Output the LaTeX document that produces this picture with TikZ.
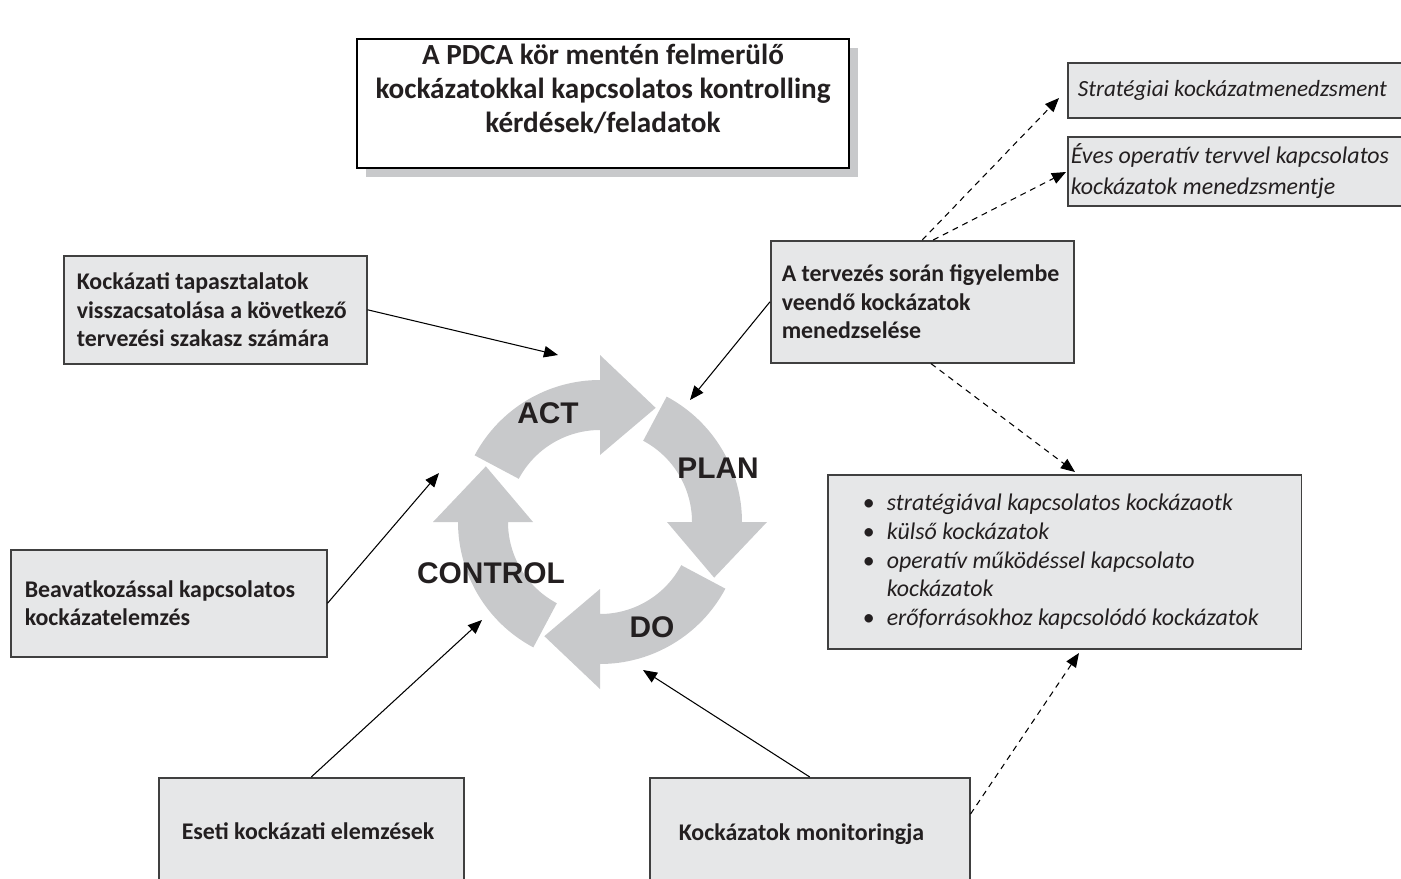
\documentclass[tikz,border=0pt]{standalone}
\usepackage{fontspec}
\setmainfont{Carlito}
\newfontfamily\arialfont{Liberation Sans}
\usetikzlibrary{arrows.meta, shadows}
\definecolor{boxfill}{HTML}{E6E7E8}
\definecolor{boxline}{HTML}{404040}
\definecolor{ringgray}{HTML}{C8C9CB}
\definecolor{textdark}{HTML}{231F20}

\begin{document}
\begin{tikzpicture}[x=0.02cm, y=-0.02cm, >={Triangle[length=8pt,width=6.5pt]},
    box/.style={draw=boxline, fill=boxfill, line width=0.9pt, anchor=north west, align=flush left,
        text=textdark, inner ysep=0pt, font=\fontsize{13.6}{16.4}\selectfont\bfseries},
    ibox/.style={box, font=\fontsize{13.6}{17.6}\selectfont\itshape},
    link/.style={->, line width=0.6pt},
    dlink/.style={link, dash pattern=on 3.4pt off 2.8pt},
    phase/.style={font=\arialfont\fontsize{17}{20}\selectfont\bfseries, text=textdark}]
        \useasboundingbox (0,0) rectangle (1401,879);
        \clip (0,0) rectangle (1401,879);
        % PDCA ring
        \begin{scope}[shift={(600,522)}, yscale=-1]
            \foreach \r in {0,-90,-180,-270}
                \fill[ringgray, rotate=\r] (152:142) arc[start angle=152, end angle=90, radius=142]
                    -- (90:167) -- (64:127) -- (90:67) -- (90:92)
                    arc[start angle=90, end angle=152, radius=92] -- cycle;
        \end{scope}
        \node[phase](act) at (548,413) {ACT};
        \node[phase](plan) at (718,468) {PLAN};
        \node[phase](control) at (491,573) {CONTROL};
        \node[phase](do) at (652,627) {DO};
        % title
        \node[draw=black, fill=white, line width=1pt, minimum width=9.84cm, minimum height=2.58cm,
            drop shadow={shadow xshift=0.18cm, shadow yshift=-0.18cm, fill=ringgray, opacity=1}]
            (pdcaTitle) at (603,103.5) {};
        \node[font=\fontsize{16.6}{19.3}\selectfont\bfseries, align=flush center, text=textdark]
            (pdcaTitleText) at (603,89) {A PDCA kör mentén felmerülő\\kockázatokkal kapcsolatos kontrolling\\kérdések/feladatok};
        % boxes
        \node[box, text width=5.54cm, inner xsep=0.26cm, minimum height=2.16cm](kockazat) at (63,255)
            {Kockázati tapasztalatok\\visszacsatolása a következő\\tervezési szakasz számára};
        \node[box, text width=5.62cm, inner xsep=0.22cm, minimum height=2.44cm](tervezes) at (770,240)
            {A tervezés során figyelembe\\veendő kockázatok\\menedzselése};
        \node[box, text width=5.76cm, inner xsep=0.28cm, minimum height=2.14cm](beavatkozas) at (10,549)
            {Beavatkozással kapcsolatos\\kockázatelemzés};
        \node[box, text width=5.18cm, inner xsep=0.46cm, minimum height=2.12cm](eseti) at (158,777)
            {Eseti kockázati elemzések};
        \node[box, text width=5.24cm, inner xsep=0.58cm, minimum height=2.24cm](monitoring) at (649,777)
            {Kockázatok monitoringja};
        \node[ibox, font=\fontsize{13.2}{17.6}\selectfont\itshape, text width=7.6cm, inner xsep=0.2cm,
            minimum height=1.1cm](strategiai) at (1067,62)
            {Stratégiai kockázatmenedzsment};
        \node[ibox, text width=7.88cm, inner xsep=0.06cm, minimum height=1.38cm](eves) at (1067,136)
            {Éves operatív tervvel kapcsolatos\\kockázatok menedzsmentje};
        \node[ibox, font=\fontsize{13.6}{16.3}\selectfont\itshape, text width=8.08cm, inner xsep=0.7cm,
            minimum height=3.48cm](lista) at (827,474)
            {\makebox[0.48cm][l]{\upshape\textbullet}stratégiával kapcsolatos kockázaotk\\
             \makebox[0.48cm][l]{\upshape\textbullet}külső kockázatok\\
             \makebox[0.48cm][l]{\upshape\textbullet}operatív működéssel kapcsolato\\
             \hspace*{0.48cm}kockázatok\\
             \makebox[0.48cm][l]{\upshape\textbullet}erőforrásokhoz kapcsolódó kockázatok};
        % arrow ends
        \coordinate (actIn) at (558,355);
        \coordinate (planIn) at (690,400);
        \coordinate (stratIn) at (1059,98);
        \coordinate (evesIn) at (1066,172);
        \coordinate (listaIn) at (1075,472);
        \coordinate (controlIn) at (439,473);
        \coordinate (controlIn2) at (482,620);
        \coordinate (doIn) at (643,670);
        \coordinate (listaIn2) at (1079,653);
        % connectors
        \draw[link] (kockazat.east) -- (actIn);
        \draw[link] (tervezes.west) -- (planIn);
        \draw[dlink] (tervezes.north) -- (stratIn);
        \draw[dlink] (tervezes.80) -- (evesIn);
        \draw[dlink] (tervezes.-82) -- (listaIn);
        \draw[link] (beavatkozas.east) -- (controlIn);
        \draw[link] (eseti.north) -- (controlIn2);
        \draw[link] (monitoring.north) -- (doIn);
        \draw[dlink] (monitoring.7) -- (listaIn2);
\end{tikzpicture}
\end{document}
